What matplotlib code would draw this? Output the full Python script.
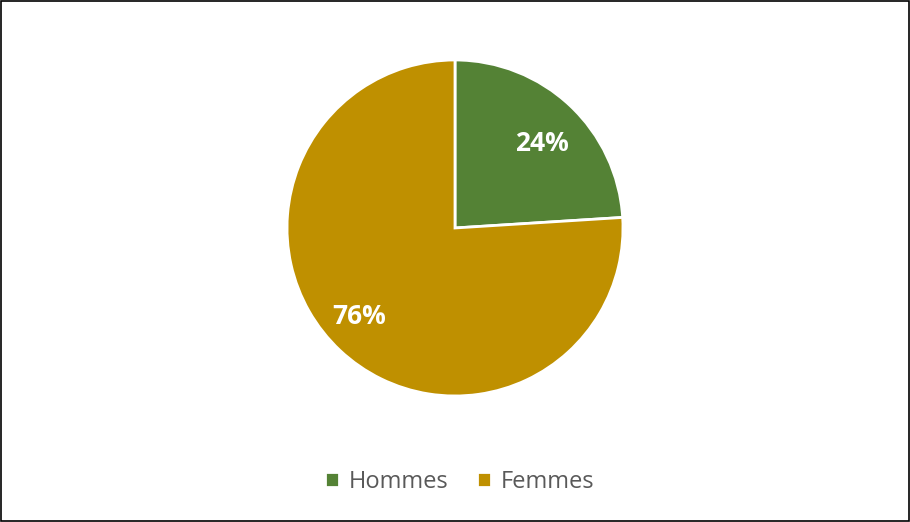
import matplotlib
matplotlib.use("Agg")
import matplotlib.pyplot as plt
from matplotlib.patches import Rectangle

categories = ["Hommes", "Femmes"]
values = [24, 76]
colors = ["#548235", "#BF9000"]

fig = plt.figure(figsize=(9.10, 5.22), dpi=100)
fig.patch.set_facecolor("white")

# pie centred at (455, 228) px, radius ~168 px
ax = fig.add_axes([0.5 - 0.1846, 0.5632 - 0.3218, 0.3692, 0.6437])
wedges, texts, autotexts = ax.pie(
    values, colors=colors, startangle=90, counterclock=False,
    autopct="%1.0f%%", pctdistance=0.75,
    wedgeprops=dict(edgecolor="white", linewidth=2),
    textprops=dict(color="white", fontsize=19, fontweight="bold", family="Open Sans"),
)
# label spots as in the original
autotexts[0].set_position((0.52, 0.50))
autotexts[1].set_position((-0.57, -0.525))
ax.set_xlim(-1, 1)
ax.set_ylim(-1, 1)
ax.set_aspect("auto")
ax.axis("off")

leg = fig.legend(
    wedges, categories, loc="center", bbox_to_anchor=(0.505, 0.077),
    ncol=2, frameon=False, handlelength=0.6, handleheight=0.6,
    handletextpad=0.4, columnspacing=1.2,
    prop=dict(family="Open Sans", size=17),
)
for t in leg.get_texts():
    t.set_color("#595959")

fig.patches.append(Rectangle((0.001, 0.001), 0.998, 0.998, transform=fig.transFigure,
                             fill=False, edgecolor="black", linewidth=1.2))

fig.savefig("out.png", dpi=100, facecolor="white")
